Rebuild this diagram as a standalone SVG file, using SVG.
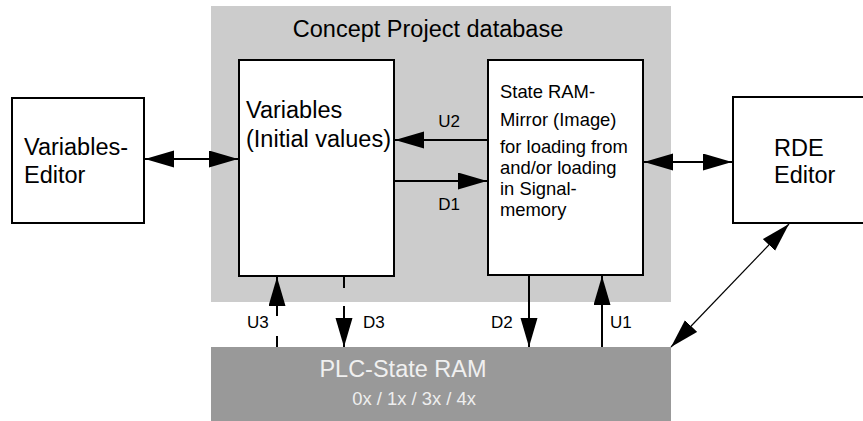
<svg xmlns="http://www.w3.org/2000/svg" width="863" height="421" viewBox="0 0 863 421">
<style>
.box{fill:#fff;stroke:#000;stroke-width:2}
.big{font-family:"Liberation Sans",Arial,sans-serif;font-size:23.5px;fill:#000}
.mid{font-family:"Liberation Sans",Arial,sans-serif;font-size:18.4px;fill:#000}
.lbl{font-family:"Liberation Sans",Arial,sans-serif;font-size:17px;fill:#000}
.con{stroke:#000;stroke-width:2;fill:none}
.thin{stroke:#000;stroke-width:1.2;fill:none}
</style>
<defs>
<marker id="ah" markerUnits="userSpaceOnUse" markerWidth="30" markerHeight="18" viewBox="0 0 30 18" refX="29" refY="8.5" orient="auto-start-reverse">
<path d="M0,0 L29,8.5 L0,17 z" fill="#000"/>
</marker>
</defs>
<rect id="db-panel" x="211" y="6" width="460" height="296" fill="#cccccc"/>
<g id="plc">
<rect x="211" y="347" width="460" height="75" fill="#999999"/>
<text class="big" x="403" y="377" text-anchor="middle" fill="#f0f0f0" style="fill:#f0f0f0">PLC-State RAM</text>
<text class="mid" x="414" y="405" text-anchor="middle" style="fill:#eeeeee">0x / 1x / 3x / 4x</text>
</g>
<text id="db-title" class="big" x="428" y="37" text-anchor="middle">Concept Project database</text>
<g id="variables-editor">
<rect class="box" x="12" y="98" width="132" height="125"/>
<text class="big" x="24" y="155">Variables-</text>
<text class="big" x="24" y="183">Editor</text>
</g>
<g id="variables">
<rect class="box" x="239" y="60" width="155" height="216"/>
<text class="big" x="246" y="118">Variables</text>
<text class="big" x="246" y="147">(Initial values)</text>
</g>
<g id="state-ram-mirror">
<rect class="box" x="488" y="60" width="155" height="215"/>
<text class="mid" x="500" y="97.5">State RAM-</text>
<text class="mid" x="500" y="125.5">Mirror (Image)</text>
<text class="mid" x="500" y="152.5">for loading from</text>
<text class="mid" x="500" y="173.5">and/or loading</text>
<text class="mid" x="500" y="194.5">in Signal-</text>
<text class="mid" x="500" y="216">memory</text>
</g>
<g id="rde-editor">
<rect class="box" x="733" y="97" width="140" height="126"/>
<text class="big" x="774" y="156">RDE</text>
<text class="big" x="774" y="183">Editor</text>
</g>
<g id="connectors">
<path class="con" d="M145,159 L238,159" marker-start="url(#ah)" marker-end="url(#ah)"/>
<path class="con" d="M644,162 L732,162" marker-start="url(#ah)" marker-end="url(#ah)"/>
<path class="con" d="M487,140 L395,140" marker-end="url(#ah)"/>
<path class="con" d="M394,181 L487,181" marker-end="url(#ah)"/>
<path class="con" d="M529,276 L529,347" marker-end="url(#ah)"/>
<path class="con" d="M602,347 L602,276" marker-end="url(#ah)"/>
<path class="con" d="M277,347 L277,277" stroke-dasharray="11 20 60" marker-end="url(#ah)"/>
<path class="con" d="M344,277 L344,347" stroke-dasharray="11 18 60" marker-end="url(#ah)"/>
<path class="thin" d="M671,347 L789,224" marker-start="url(#ah)" marker-end="url(#ah)"/>
<text class="lbl" x="449" y="127" text-anchor="middle">U2</text>
<text class="lbl" x="449" y="210" text-anchor="middle">D1</text>
<text class="lbl" x="247" y="328">U3</text>
<text class="lbl" x="363" y="328">D3</text>
<text class="lbl" x="491" y="328">D2</text>
<text class="lbl" x="610" y="328">U1</text>
</g>
</svg>
